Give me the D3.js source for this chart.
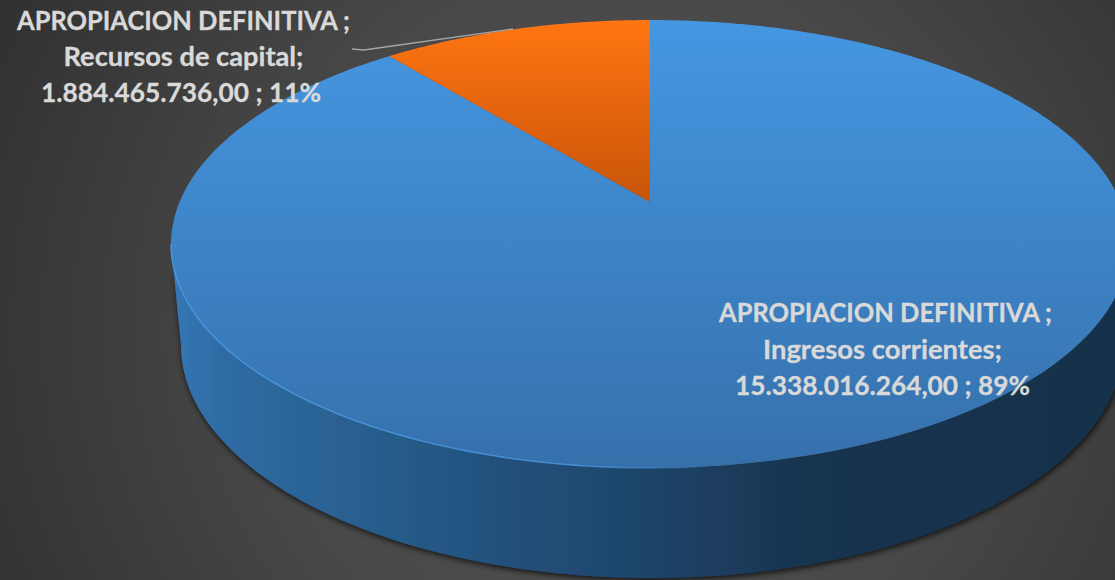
<!DOCTYPE html>
<html><head><meta charset="utf-8">
<script src="https://cdnjs.cloudflare.com/ajax/libs/d3/7.8.5/d3.min.js"></script>
<style>html,body{margin:0;padding:0;background:#3a3a3a;overflow:hidden}svg{display:block}
text{font-family:Lato,"Open Sans",sans-serif;font-weight:700;fill:#d9d9d9;stroke:#d9d9d9;stroke-width:.3}</style></head>
<body><svg id="c" width="1115" height="580"></svg>
<script>
const categories=["Ingresos corrientes","Recursos de capital"];
const seriesName="APROPIACION DEFINITIVA";
const values=[15338016264,1884465736];
const valueLabels=["15.338.016.264,00","1.884.465.736,00"];
const percentLabels=["89%","11%"];
const topColors=[["#4597e2","#3670ab"],["#ff7512","#c85409"]];
const W=1115,H=580;
const svg=d3.select("#c");
const defs=svg.append("defs");
// background
const bg=defs.append("radialGradient").attr("id","bg").attr("gradientUnits","userSpaceOnUse")
 .attr("cx",620).attr("cy",330).attr("r",720);
bg.append("stop").attr("offset",0).attr("stop-color","#565656");
bg.append("stop").attr("offset",.5).attr("stop-color","#484848");
bg.append("stop").attr("offset",1).attr("stop-color","#2f2f2f");
svg.append("rect").attr("width",W).attr("height",H).attr("fill","url(#bg)");
// perspective disc
const cx=650,cy=202,k=0.1875,a=470.5,b=216.1;
const project=(ang)=>{const x=Math.sin(ang),y=Math.cos(ang),d=1+k*y;return [cx+a*x/d,cy-b*y/d];};
const arcs=d3.pie().sort(null)(values);
const line=d3.line();
const wedge=(s,e)=>{const pts=[[cx,cy]];const n=Math.max(8,Math.ceil((e-s)*80));
 d3.range(n+1).forEach(i=>pts.push(project(s+(e-s)*i/n)));return line(pts)+"Z";};
// wall
const bcx=652,bcy=345,brx=471,bry=233;
const tcy=244,trx=479,try_=224;
const ang=d3.range(0,Math.PI+0.001,Math.PI/120);
const wallPts=ang.map(t=>[cx-trx*Math.cos(t),tcy+try_*Math.sin(t)]).concat(
 ang.slice().reverse().map(t=>[bcx-brx*Math.cos(t),bcy+bry*Math.sin(t)]));
const wg=defs.append("linearGradient").attr("id","wall").attr("gradientUnits","userSpaceOnUse")
 .attr("x1",171).attr("x2",1123).attr("y1",0).attr("y2",0);
[[0,"#3577b5"],[.05,"#2f6ca5"],[.19,"#29608f"],[.35,"#22507c"],[.504,"#1e4468"],[.66,"#183450"],[1,"#15304b"]]
 .forEach(s=>wg.append("stop").attr("offset",s[0]).attr("stop-color",s[1]));
const sh=defs.append("filter").attr("id","shadow").attr("x","-10%").attr("y","-10%").attr("width","120%").attr("height","120%");
sh.append("feDropShadow").attr("dx",1).attr("dy",2).attr("stdDeviation",3).attr("flood-color","#000").attr("flood-opacity",.8);
svg.append("path").attr("d",line(wallPts)+"Z").attr("fill","url(#wall)").attr("filter","url(#shadow)");
// top slices
topColors.forEach((c,i)=>{const g=defs.append("linearGradient").attr("id","t"+i).attr("gradientUnits","userSpaceOnUse")
 .attr("x1",0).attr("x2",0).attr("y1",20).attr("y2",i?202:468);
 g.append("stop").attr("offset",0).attr("stop-color",c[0]);g.append("stop").attr("offset",1).attr("stop-color",c[1]);});
arcs.forEach((d,i)=>svg.append("path").attr("d",wedge(d.startAngle,d.endAngle)).attr("fill","url(#t"+i+")"));
// rim highlight fading to the right
const rg=defs.append("linearGradient").attr("id","rim").attr("gradientUnits","userSpaceOnUse")
 .attr("x1",171).attr("x2",720).attr("y1",0).attr("y2",0);
rg.append("stop").attr("offset",0).attr("stop-color","#4a9ae6").attr("stop-opacity",.9);
rg.append("stop").attr("offset",.75).attr("stop-color","#4a9ae6").attr("stop-opacity",.8);
rg.append("stop").attr("offset",1).attr("stop-color","#4a9ae6").attr("stop-opacity",0);
svg.append("path").attr("d",line(d3.range(0,Math.PI*0.56,Math.PI/120).map(t=>[cx-trx*Math.cos(t),tcy+try_*Math.sin(t)])))
 .attr("fill","none").attr("stroke","url(#rim)").attr("stroke-width",1.4);
// leader
svg.append("path").attr("d","M352,49L364,50L513,29").attr("fill","none").attr("stroke","#a6a6a6").attr("stroke-width",1.3);
// labels
const layouts=[
 {x:[885.5,882.5,882.5],y:[322,358.5,395],w:[333,239,295]},
 {x:[183.5,183.5,181],y:[29.5,65.5,101.5],w:[333,240,280]}];
arcs.forEach((d,i)=>{
 const lines=[seriesName+" ;",categories[i]+";",valueLabels[i]+" ; "+percentLabels[i]];
 lines.forEach((t,j)=>svg.append("text").attr("x",layouts[i].x[j]).attr("y",layouts[i].y[j])
  .attr("text-anchor","middle").attr("font-size",26)
  .attr("textLength",layouts[i].w[j]).attr("lengthAdjust","spacingAndGlyphs").text(t));
});
</script></body></html>
